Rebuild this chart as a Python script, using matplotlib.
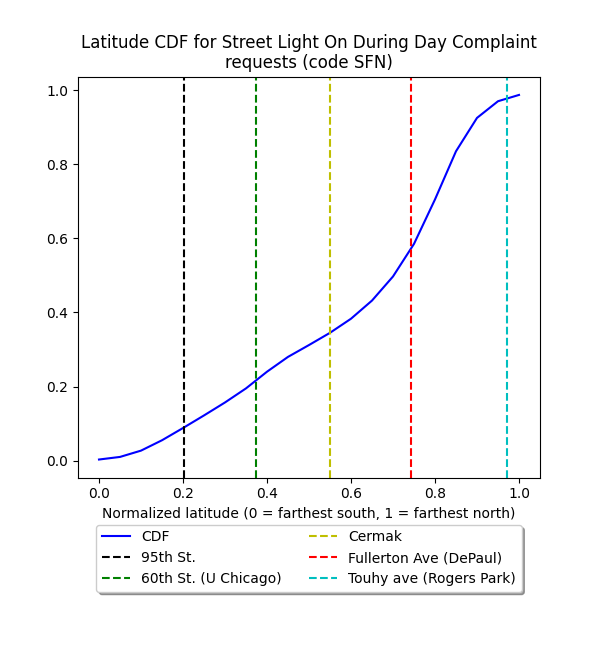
import matplotlib
matplotlib.use("Agg")
import matplotlib.pyplot as plt

# ── Data ───────────────────────────────────────────────────────────────────
lat = [0.0, 0.05, 0.1, 0.15, 0.2, 0.25, 0.3, 0.35, 0.4, 0.45, 0.5, 0.55,
       0.6, 0.65, 0.7, 0.75, 0.8, 0.85, 0.9, 0.95, 1.0]
cdf = [0.003, 0.01, 0.027, 0.055, 0.088, 0.122, 0.157, 0.195, 0.24, 0.28,
       0.312, 0.345, 0.383, 0.432, 0.497, 0.585, 0.705, 0.835, 0.925, 0.97, 0.987]

marker_names = ["95th St.", "60th St. (U Chicago)", "Cermak",
                "Fullerton Ave (DePaul)", "Touhy ave (Rogers Park)"]
marker_pos = [0.203, 0.374, 0.551, 0.742, 0.972]
marker_colors = ["k", "g", "y", "r", "c"]

# ── Plot ───────────────────────────────────────────────────────────────────
fig = plt.figure(figsize=(6, 6.5), dpi=100)
ax = fig.add_axes([0.13, 0.265, 0.77, 0.617])
ax.plot(lat, cdf, color="b", label="CDF")
for name, pos, c in zip(marker_names, marker_pos, marker_colors):
    ax.axvline(pos, color=c, linestyle="--", label=name)
ax.set_xlabel("Normalized latitude (0 = farthest south, 1 = farthest north)")
ax.set_title("Latitude CDF for Street Light On During Day Complaint\nrequests (code SFN)")
ax.legend(loc="upper center", bbox_to_anchor=(0.5, -0.1), ncol=2,
          shadow=True, fancybox=True)
plt.savefig("out.png", dpi=100)
